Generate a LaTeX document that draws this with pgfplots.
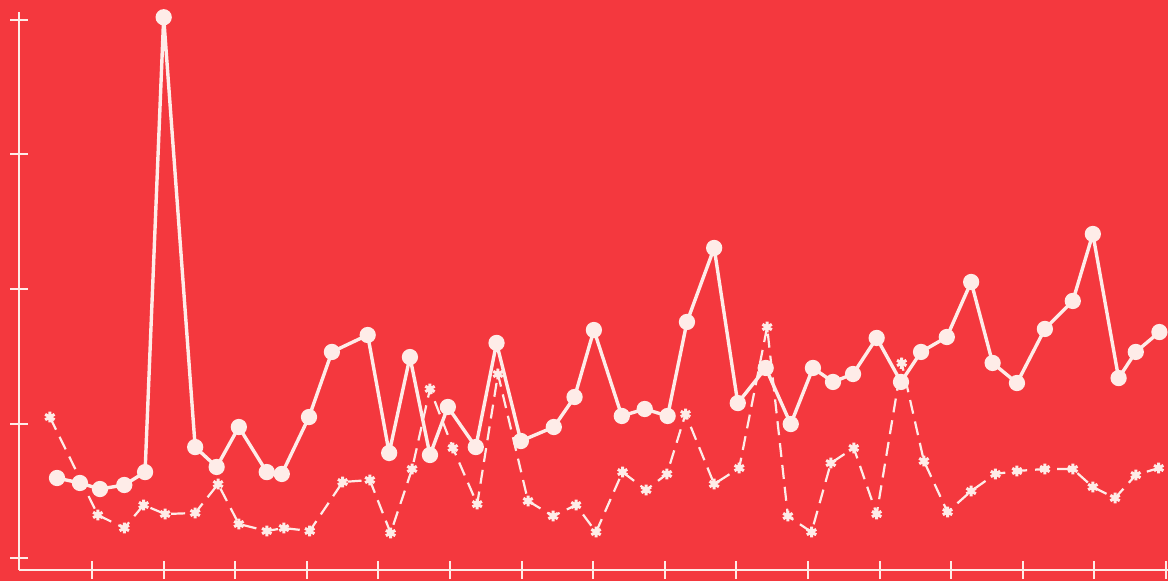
\documentclass[border=0pt]{standalone}
\usepackage{pgfplots}
\pgfplotsset{compat=1.18}
\usetikzlibrary{backgrounds}
\definecolor{bgred}{RGB}{244,56,62}
\definecolor{ink}{RGB}{254,236,232}
\begin{document}
\begin{tikzpicture}[show background rectangle, inner frame sep=0pt,
  background rectangle/.style={fill=bgred, draw=none}]
\begin{axis}[
  scale only axis,
  width=574.5pt, height=279pt,
  xmin=-0.021, xmax=16.03,
  ymin=-0.089, ymax=4.059,
  axis lines=left,
  axis line style={-, draw=ink, line width=1pt},
  xtick={1,...,16}, ytick={0,...,4},
  xticklabels={}, yticklabels={},
  tick align=center,
  major tick length=9pt,
  every tick/.style={ink, line width=1pt},
  clip=false,
]
\coordinate (bbsw) at (axis description cs:-0.01654,-0.01971);
\coordinate (bbne) at (axis description cs:1.0,1.02151);
% dashed series with asterisks
\addplot[ink, line width=1.1pt, dash pattern=on 7pt off 4pt,
  mark=asterisk, mark size=2.7pt, mark options={solid, line width=1.5pt}]
coordinates {
(0.41,1.048) (1.08,0.320) (1.45,0.223) (1.72,0.394) (2.02,0.327) (2.44,0.335)
(2.76,0.550) (3.05,0.253) (3.44,0.201) (3.68,0.223) (4.04,0.201) (4.50,0.565)
(4.88,0.580) (5.17,0.186) (5.47,0.662) (5.72,1.257) (6.04,0.818) (6.38,0.401)
(6.67,1.368) (7.09,0.424) (7.44,0.312) (7.76,0.394) (8.04,0.193) (8.41,0.639)
(8.74,0.506) (9.03,0.625) (9.29,1.071) (9.69,0.550) (10.04,0.669) (10.43,1.717)
(10.72,0.312) (11.05,0.193) (11.32,0.706) (11.64,0.818) (11.96,0.327) (12.31,1.450)
(12.62,0.721) (12.95,0.342) (13.28,0.498) (13.62,0.625) (13.92,0.647) (14.31,0.662)
(14.70,0.662) (14.98,0.528) (15.29,0.446) (15.58,0.617) (15.90,0.669)
};
% solid series with circles
\addplot[ink, line width=1.7pt, mark=*, mark size=3.2pt, mark options={fill=ink, draw=ink}]
coordinates {
(0.51,0.595) (0.83,0.558) (1.11,0.513) (1.45,0.543) (1.74,0.639) (2.00,4.02)
(2.44,0.825) (2.74,0.677) (3.05,0.974) (3.44,0.639) (3.65,0.625) (4.03,1.048)
(4.35,1.532) (4.85,1.658) (5.15,0.781) (5.44,1.494) (5.72,0.766) (5.97,1.123)
(6.36,0.825) (6.65,1.599) (6.99,0.870) (7.45,0.974) (7.74,1.197) (8.01,1.695)
(8.40,1.056) (8.72,1.108) (9.04,1.056) (9.31,1.755) (9.69,2.305) (10.02,1.152)
(10.41,1.413) (10.76,0.996) (11.07,1.413) (11.35,1.309) (11.63,1.368) (11.96,1.636)
(12.30,1.309) (12.58,1.532) (12.94,1.643) (13.28,2.052) (13.58,1.450) (13.92,1.301)
(14.31,1.703) (14.70,1.911) (14.98,2.409) (15.34,1.338) (15.58,1.532) (15.91,1.680)
};
\end{axis}
\pgfresetboundingbox
\path[use as bounding box] (bbsw) rectangle (bbne);
\end{tikzpicture}
\end{document}
